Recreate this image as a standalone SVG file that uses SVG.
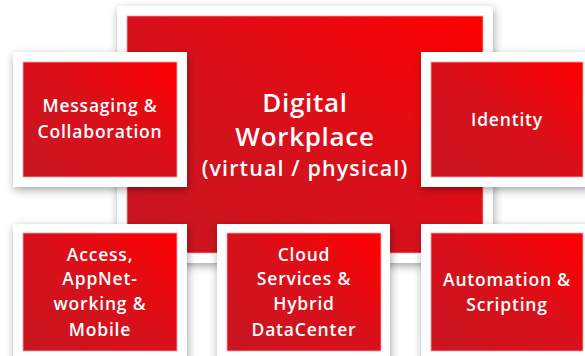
<svg xmlns="http://www.w3.org/2000/svg" width="585" height="356" viewBox="0 0 585 356">
  <defs>
    <linearGradient id="red" x1="1" y1="0" x2="0" y2="1">
      <stop offset="0" stop-color="#ff0000"/>
      <stop offset="0.5" stop-color="#d8101b"/>
      <stop offset="1" stop-color="#c81620"/>
    </linearGradient>
    <filter id="shadow" x="-20%" y="-20%" width="140%" height="140%">
      <feDropShadow dx="1" dy="3" stdDeviation="4" flood-color="#000" flood-opacity="0.35"/>
    </filter>
    <style>
      .frame { fill: #ffffff; filter: url(#shadow); }
      .panel { fill: url(#red); stroke: #f2a7ab; stroke-width: 0.8; }
      .t { font-family: "Open Sans", "DejaVu Sans", sans-serif; font-weight: 600; fill: #ffffff; text-anchor: middle; }
      .s { font-size: 17.5px; letter-spacing: 0.8px; }
      .b { font-size: 26px; letter-spacing: 0.7px; }
      .m { font-size: 21.5px; letter-spacing: 1.1px; }
    </style>
  </defs>
  <rect width="585" height="356" fill="#ffffff"/>
  <g id="connectors"/>
  <g id="digital-workplace">
    <rect class="frame" x="117" y="6" width="376" height="257"/>
    <rect class="panel" x="127" y="16" width="356" height="237"/>
    <text class="t b" x="305" y="112">Digital</text>
    <text class="t b" x="305" y="146">Workplace</text>
    <text class="t m" x="305" y="176">(virtual / physical)</text>
  </g>
  <g id="messaging">
    <rect class="frame" x="13" y="52" width="174" height="135"/>
    <rect class="panel" x="23" y="62" width="154" height="115"/>
    <text class="t s" x="100" y="112">Messaging &amp;</text>
    <text class="t s" x="100" y="138">Collaboration</text>
  </g>
  <g id="identity">
    <rect class="frame" x="421" y="52" width="172" height="135"/>
    <rect class="panel" x="431" y="62" width="152" height="115"/>
    <text class="t s" x="507" y="126">Identity</text>
  </g>
  <g id="access">
    <rect class="frame" x="13" y="224" width="174" height="142"/>
    <rect class="panel" x="23" y="233" width="154" height="118"/>
    <text class="t s" x="100" y="261">Access,</text>
    <text class="t s" x="100" y="285">AppNet-</text>
    <text class="t s" x="100" y="310">working &amp;</text>
    <text class="t s" x="100" y="336">Mobile</text>
  </g>
  <g id="cloud">
    <rect class="frame" x="217" y="224" width="173" height="142"/>
    <rect class="panel" x="227" y="233" width="154" height="118"/>
    <text class="t s" x="304" y="261">Cloud</text>
    <text class="t s" x="304" y="285">Services &amp;</text>
    <text class="t s" x="304" y="310">Hybrid</text>
    <text class="t s" x="304" y="336">DataCenter</text>
  </g>
  <g id="automation">
    <rect class="frame" x="421" y="224" width="172" height="142"/>
    <rect class="panel" x="431" y="233" width="152" height="118"/>
    <text class="t s" x="507" y="286">Automation &amp;</text>
    <text class="t s" x="507" y="311">Scripting</text>
  </g>
</svg>
